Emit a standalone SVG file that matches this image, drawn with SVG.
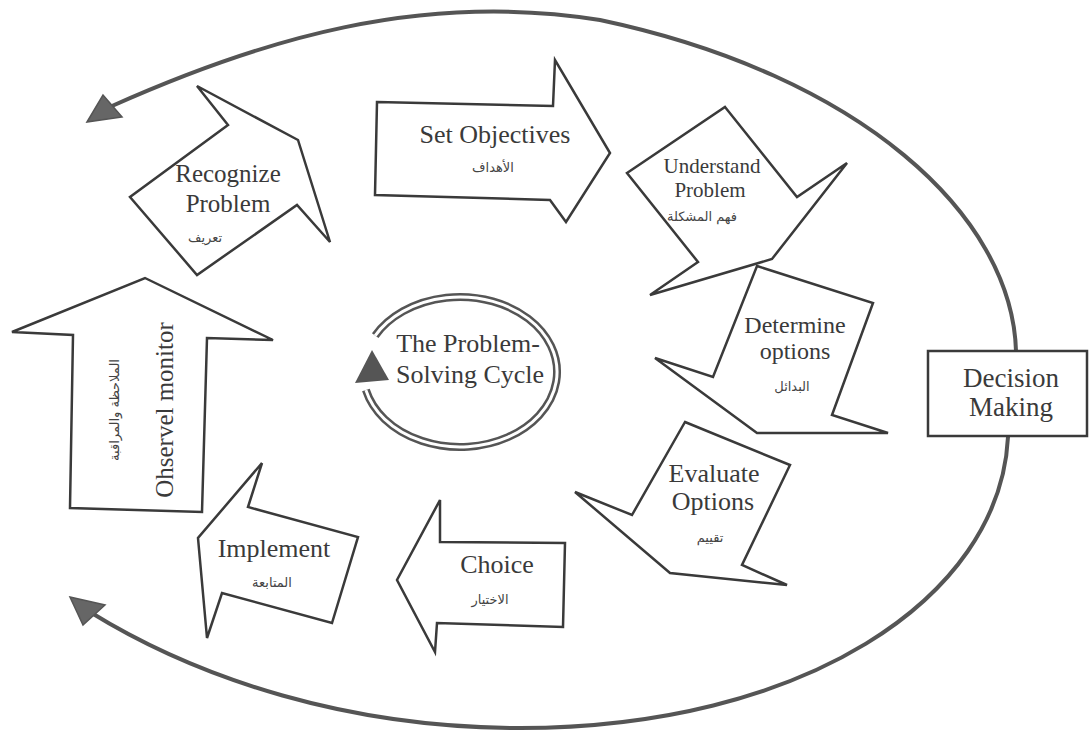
<svg xmlns="http://www.w3.org/2000/svg" width="1089" height="731" viewBox="0 0 1089 731">
<style>
.blk{fill:#fff;stroke:#3a3a3a;stroke-width:2.5;stroke-linejoin:miter}
.en{font-family:"Liberation Serif",serif;fill:#3a3a3a;text-anchor:middle}
.ar{font-family:"DejaVu Sans",sans-serif;fill:#444;text-anchor:middle;font-size:13px}
.big{fill:none;stroke:#555;stroke-width:4}
.head{fill:#666;stroke:#555;stroke-width:1.5}
</style>
<rect width="1089" height="731" fill="#fff"/>
<g id="connectors">
<path class="big" d="M1016,351 C1012,215 860,75 600,20 C420,-9 260,40 112,106"/>
<polygon class="head" points="87,122 103,95 122,117"/>
<path class="big" d="M1008,437 C1000,600 800,728 520,728 C350,728 200,680 90,612"/>
<polygon class="head" points="70,597 105,605 83,625"/>
</g>
<g id="recognize">
<polygon class="blk" points="197,86 228,125 130,197 197,275 297,205 330,242 298,140"/>
<text class="en" x="228" y="182" font-size="25">Recognize</text>
<text class="en" x="228" y="212" font-size="25">Problem</text>
<text class="ar" x="205" y="242">تعريف</text>
</g>
<g id="set-objectives">
<polygon class="blk" points="377,102 553,106 555,60 610,153 566,222 550,200 375,195"/>
<text class="en" x="495" y="143" font-size="26">Set Objectives</text>
<text class="ar" x="493" y="172">الأهداف</text>
</g>
<g id="understand">
<polygon class="blk" points="725,107 797,197 847,163 772,259 650,295 698,262 627,173"/>
<text class="en" x="712" y="173" font-size="21">Understand</text>
<text class="en" x="710" y="197" font-size="21">Problem</text>
<text class="ar" x="702" y="221" font-size="11">فهم المشكلة</text>
</g>
<g id="determine">
<polygon class="blk" points="757,266 873,303 832,415 888,433 757,433 655,358 713,377"/>
<text class="en" x="795" y="333" font-size="24">Determine</text>
<text class="en" x="795" y="359" font-size="24">options</text>
<text class="ar" x="792" y="391">البدائل</text>
</g>
<g id="evaluate">
<polygon class="blk" points="685,422 790,465 742,565 787,585 670,573 575,492 632,515"/>
<text class="en" x="714" y="482" font-size="26">Evaluate</text>
<text class="en" x="713" y="510" font-size="26">Options</text>
<text class="ar" x="710" y="542">تقييم</text>
</g>
<g id="choice">
<polygon class="blk" points="440,500 440,542 565,543 563,627 437,623 435,652 397,580"/>
<text class="en" x="497" y="573" font-size="26">Choice</text>
<text class="ar" x="490" y="604">الاختيار</text>
</g>
<g id="implement">
<polygon class="blk" points="262,463 248,507 358,537 332,623 222,593 207,638 198,538"/>
<text class="en" x="274" y="557" font-size="26">Implement</text>
<text class="ar" x="272" y="587">المتابعة</text>
</g>
<g id="observe">
<polygon class="blk" points="145,278 273,340 207,338 202,512 70,508 73,335 12,332"/>
<text class="en" transform="translate(173,410) rotate(-90)" x="0" y="0" font-size="25">Ohservel monitor</text>
<text class="ar" transform="translate(119,410) rotate(-90)" x="0" y="0" font-size="12">الملاحظة والمراقبة</text>
</g>
<g id="center-cycle">
<path d="M375.2,335.6 A97,75 0 1 1 365.9,390.1" fill="none" stroke="#555" stroke-width="8"/>
<path d="M375.2,335.6 A97,75 0 1 1 365.9,390.1" fill="none" stroke="#fff" stroke-width="3"/>
<polygon points="372,350 355,383 389,380" fill="#555"/>
<text class="en" x="468" y="352" font-size="26">The Problem-</text>
<text class="en" x="470" y="383" font-size="26">Solving Cycle</text>
</g>
<g id="decision">
<rect x="928" y="351" width="159" height="85" fill="#fff" stroke="#3a3a3a" stroke-width="2.5"/>
<text class="en" x="1011" y="387" font-size="27">Decision</text>
<text class="en" x="1011" y="416" font-size="27">Making</text>
</g>
</svg>
